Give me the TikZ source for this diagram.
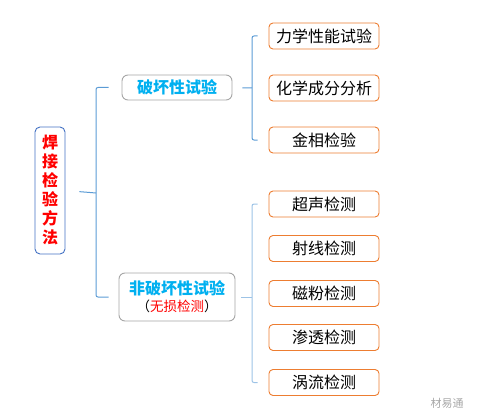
\documentclass[tikz,border=0pt]{standalone}
\usepackage{fontspec}
\setmainfont{Noto Sans CJK SC}
\usepackage{xcolor}
\usepackage{tikz}
\usetikzlibrary{positioning,calc}

\definecolor{brblue}{HTML}{5B9BD5}
\definecolor{brlight}{HTML}{9DC3E6}
\definecolor{txtcyan}{HTML}{00B0F0}
\definecolor{leaforange}{HTML}{ED7D31}
\definecolor{rootblue}{HTML}{4472C4}

\begin{document}
\begin{tikzpicture}[x=1pt, y=-1pt,
  box/.style={draw, rectangle, line width=0.9pt, fill=white, inner sep=0pt},
  root/.style={box, draw=rootblue, rounded corners=5pt, minimum width=30pt, minimum height=127pt,
    text=red, font=\fontsize{16}{19}\selectfont\bfseries, align=center},
  cat/.style={box, draw=black!35, rounded corners=6pt, minimum width=110pt, minimum height=25pt,
    text=txtcyan, font=\fontsize{16}{18}\selectfont\bfseries, align=center},
  leaf/.style={box, draw=leaforange, rounded corners=4pt, minimum width=110pt, minimum height=26pt,
    text=black, font=\fontsize{16}{18}\selectfont},
  brace/.style={draw=brblue, line width=1pt, rounded corners=2pt},
  bracelight/.style={brace, draw=brlight}
]
\useasboundingbox (0,0) rectangle (478,417);
\node[root] (root) at (50,190.5) {焊\\接\\检\\验\\方\\法};
\node[cat] (dt) at (177,87.5) {破坏性试验};
\node[cat, minimum width=116pt, minimum height=48pt] (ndt) at (177,297)
  {非破坏性试验\\[-1pt]{\fontsize{13.5}{15}\selectfont\mdseries\color{black}（\textcolor{red}{无损检测}）}};
\node[leaf] (l1) at (324,36) {力学性能试验};
\node[leaf] (l2) at (324,88) {化学成分分析};
\node[leaf] (l3) at (324,140) {金相检验};
\node[leaf] (l4) at (324,204) {超声检测};
\node[leaf] (l5) at (324,248.5) {射线检测};
\node[leaf] (l6) at (324,293.5) {磁粉检测};
\node[leaf] (l7) at (324,337.5) {渗透检测};
\node[leaf] (l8) at (324,382.5) {涡流检测};
\node[text=black!35, font=\fontsize{11}{13}\selectfont] (mark) at (447,403) {材易通};
% brackets
\coordinate (s1) at (96,193);
\coordinate (s2) at (252,88);
\coordinate (s3) at (252,297);
\draw[brace, shorten <=14pt] (root.east) -- (s1);
\draw[brace] ([xshift=-13pt]dt.west) -| (s1) |- ([xshift=-10pt]ndt.west);
\draw[brace, shorten <=10pt] (dt.east) -- (s2);
\draw[brace] ([xshift=-11pt]l1.west) -| (s2) |- ([xshift=-11pt]l3.west);
\draw[bracelight, shorten <=6pt] (ndt.east) -- (s3);
\draw[bracelight] ([xshift=-11pt]l4.west) -| (s3) |- ([xshift=-11pt]l8.west);
\end{tikzpicture}
\end{document}
